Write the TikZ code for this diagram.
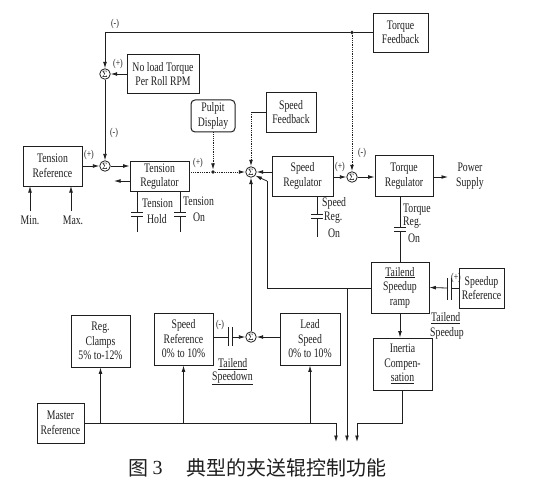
\documentclass[tikz,border=0pt]{standalone}
\usepackage{fontspec}
\setmainfont{Liberation Serif}
\newfontfamily\lab[FakeStretch=0.75]{Liberation Serif}
\newfontfamily\cjk{Noto Sans CJK SC}
\usetikzlibrary{arrows.meta,calc}
\definecolor{ink}{gray}{0.12}
\tikzset{
  box/.style={draw=ink, line width=0.8pt, align=center, inner sep=0pt, text=ink,
    font=\lab\fontsize{13}{14.5}\selectfont},
  sumj/.style={circle, draw=ink, line width=0.8pt, minimum size=10.5pt, inner sep=0pt,
    text=ink, font=\fontsize{9.5}{9.5}\selectfont},
  ln/.style={draw=ink, line width=0.8pt},
  arr/.style={ln, -{Latex[length=6.5pt,width=3.8pt]}},
  dln/.style={ln, densely dotted, line width=1pt},
  darr/.style={dln, -{Latex[length=6.5pt,width=3.8pt]}},
  sg/.style={font=\lab\fontsize{10.5}{12}\selectfont, text=ink, inner sep=0pt},
  lbl/.style={font=\lab\fontsize{13}{14.5}\selectfont, text=ink, inner sep=0pt, align=left},
  dotj/.style={circle, fill=ink, inner sep=0pt, minimum size=3.8pt}
}
\begin{document}
\begin{tikzpicture}[x=1pt,y=-1pt]
\useasboundingbox[fill=white] (0,0) rectangle (534,489);

% boxes
\node[box, minimum width=55, minimum height=39] (torqfb) at (400.5,32.5) {Torque\\Feedback};
\node[box, minimum width=72, minimum height=39] (noload) at (163,74) {No load Torque\\Per Roll RPM};
\node[box, rounded corners=4pt, line width=1pt, minimum width=44, minimum height=32] (pulpit) at (213,116) {Pulpit\\Display};
\node[box, minimum width=50, minimum height=40] (speedfb) at (291,112) {Speed\\Feedback};
\node[box, minimum width=59, minimum height=40] (tensref) at (52.5,166) {Tension\\Reference};
\node[box, minimum width=59, minimum height=30] (tensreg) at (159.5,176.5) {Tension\\Regulator};
\node[box, minimum width=61, minimum height=40] (speedreg) at (302.5,176) {Speed\\Regulator};
\node[box, minimum width=58, minimum height=41] (torqreg) at (404,176) {Torque\\Regulator};
\node[box, minimum width=58, minimum height=51] (tailend) at (400,287.5) {\underline{Tailend}\\Speedup\\ramp};
\node[box, minimum width=45, minimum height=40] (speedupref) at (481.5,288) {Speedup\\Reference};
\node[box, minimum width=60, minimum height=52] (leadspeed) at (310,339) {Lead\\Speed\\0\% to 10\%};
\node[box, minimum width=59, minimum height=52] (speedref) at (183.5,339) {Speed\\Reference\\0\% to 10\%};
\node[box, minimum width=59, minimum height=52] (regclamps) at (100.5,341) {Reg.\\Clamps\\5\% to-12\%};
\node[box, minimum width=59, minimum height=52] (inertia) at (402.5,364) {Inertia\\Compen-\\\underline{sation}};
\node[box, minimum width=47, minimum height=40] (master) at (60.5,423) {Master\\Reference};
\node[lbl, align=center] (power) at (470,176) {Power\\Supply};

% summing junctions
\node[sumj] (s1) at (105,74) {Σ};
\node[sumj] (s2) at (105,166) {Σ};
\node[sumj] (s3) at (251,172) {Σ};
\node[sumj] (s4) at (251,337) {Σ};
\node[sumj] (s5) at (352,177) {Σ};

% torque feedback loop
\coordinate (tl) at (s1 |- torqfb.west);
\node[dotj] (dA) at (s5 |- torqfb.west) {};
\draw[ln] (torqfb.west) -- (dA) -- (tl);
\draw[arr] (tl) -- (s1.north);
\draw[darr] (dA) -- (s5.north);
\draw[arr] (noload.west |- s1) -- (s1.east);
\draw[arr] (s1.south) -- (s2.north);
\draw[arr] (tensref.east |- s2) -- (s2.west);
\draw[arr] (s2.east) -- (tensreg.west |- s2);
\coordinate (tb) at (114,181);
\draw[arr] (tensreg.west |- tb) -- (tb);

% min / max
\node[lbl] (minl) at (30,220) {Min.};
\node[lbl] (maxl) at (73,220) {Max.};
\draw[arr] (30,211) -- (30,186);
\draw[arr] (71,211) -- (71,186);

% tension regulator output and pulpit
\node[dotj] (dB) at (213,172) {};
\draw[dln] (tensreg.east |- dB) -- (dB);
\draw[darr] (dB) -- (s3.west);
\draw[darr] (pulpit.south) -- (dB);

% speed feedback
\coordinate (sf) at (s3 |- speedfb.west);
\draw[ln] (speedfb.west) -- (sf);
\draw[darr] (sf) -- (s3.north);
\draw[arr] (speedreg.west |- s3) -- (s3.east);

% tailend line
\coordinate (c1) at (267,181);
\coordinate (c2) at (267,288);
\coordinate (c3) at (347,288);
\draw[ln] (tailend.west |- c2) -- (c2) -- (c1);
\draw[arr] (c1) -- (s3.-40);
\draw[arr] (c3) -- (347,442);
\draw[arr] (s4.north) -- (s3.south);

% speed reg -> torque reg
\draw[arr] (speedreg.east |- s5) -- (s5.west);
\draw[arr] (s5.east) -- (torqreg.west |- s5);
\draw[arr] (torqreg.east |- s5) -- (448,177);

% tension contacts
\draw[ln] (137,191.5) -- (137,212) (131,212) -- (143,212) (131,216) -- (143,216) (137,216) -- (137,232);
\draw[ln] (180,191.5) -- (180,212) (174,212) -- (186,212) (174,216) -- (186,216) (180,216) -- (180,232);
\node[lbl, anchor=west] (th1) at (142,203) {Tension};
\node[lbl, anchor=west] (th2) at (147,219) {Hold};
\node[lbl, anchor=west] (to1) at (183,201) {Tension};
\node[lbl, anchor=west] (to2) at (193,217) {On};

% speed reg contact
\draw[ln] (317,196) -- (317,214) (311,214) -- (323,214) (311,218) -- (323,218) (317,218) -- (317,237);
\node[lbl, anchor=west] (sr1) at (322,203) {Speed};
\node[lbl, anchor=west] (sr2) at (324,218) {Reg.};
\node[lbl, anchor=west] (sr3) at (328,233) {On};

% torque reg contact
\coordinate (tq) at (tailend.north |- torqreg.south);
\draw[ln] (tq) -- (400,227) (394,227) -- (406,227) (394,231) -- (406,231) (400,231) -- (tailend.north);
\node[lbl, anchor=west] (tr1) at (403,210) {Torque};
\node[lbl, anchor=west] (tr2) at (403,223) {Reg.};
\node[lbl, anchor=west] (tr3) at (408,238) {On};

% speedup reference
\draw[ln] (speedupref.west) -- (451,288) (451,278) -- (451,300) (447,278) -- (447,300);
\draw[arr] (447,288) -- (tailend.east);
\node[sg] (lI) at (456,278) {(+)};
\draw[arr] (tailend.south) -- (tailend.south |- inertia.north);
\node[lbl, anchor=west] (ts1) at (431,318) {\underline{Tailend}};
\node[lbl, anchor=west] (ts2) at (430,333) {Speedup};

% speed reference / lead speed
\draw[ln] (speedref.east |- s4) -- (228,337) (228,327) -- (228,346) (232,327) -- (232,346);
\draw[arr] (232,337) -- (s4.west);
\draw[arr] (leadspeed.west |- s4) -- (s4.east);
\node[lbl, anchor=west] (sd1) at (218,364) {\underline{Tailend}};
\node[lbl, anchor=west] (sd2) at (212,378) {\underline{Speedown}};

% master reference bus
\coordinate (m1) at (336,423);
\draw[ln] (master.east) -- (m1);
\draw[arr] (m1) -- (336,442);
\draw[arr] (regclamps.south |- master.east) -- (regclamps.south);
\draw[arr] (speedref.south |- master.east) -- (speedref.south);
\draw[arr] (leadspeed.south |- master.east) -- (leadspeed.south);
\coordinate (i1) at (inertia.south |- m1);
\coordinate (i2) at (357,423);
\draw[ln] (inertia.south) -- (i1) -- (i2);
\draw[arr] (i2) -- (357,442);

% sign labels
\node[sg] (lA) at (115,24) {(-)};
\node[sg] (lB) at (118,64) {(+)};
\node[sg] (lC) at (114,133) {(-)};
\node[sg] (lD) at (89,155) {(+)};
\node[sg] (lE) at (198,163) {(+)};
\node[sg] (lF) at (340,167) {(+)};
\node[sg] (lG) at (362,153) {(-)};
\node[sg] (lH) at (220,325) {(-)};

% caption
\node[text=ink, font=\cjk\fontsize{20}{22}\selectfont, inner sep=0pt] (cap1) at (138,468) {图};
\node[text=ink, font=\fontsize{20}{22}\selectfont, inner sep=0pt] (cap2) at (157.5,468) {3};
\node[text=ink, font=\cjk\fontsize{20}{22}\selectfont, inner sep=0pt, anchor=west] (cap3) at (186,468) {典型的夹送辊控制功能};
\end{tikzpicture}
\end{document}
